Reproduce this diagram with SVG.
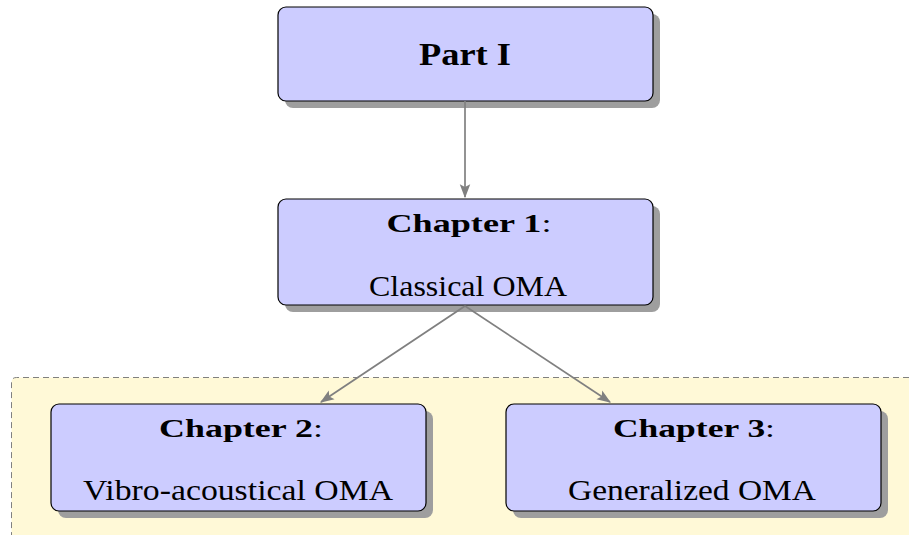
<svg xmlns="http://www.w3.org/2000/svg" width="909" height="535" viewBox="0 0 909 535">
<defs>
<marker id="ah" viewBox="0 0 12 10" refX="11" refY="5" markerWidth="14" markerHeight="12" markerUnits="userSpaceOnUse" orient="auto">
<path d="M0,0.5 L12,5 L0,9.5 L2.5,5 Z" fill="#808080"/>
</marker>
</defs>
<style>
.box{fill:#ccccff;stroke:#000;stroke-width:1.2}
.sh{fill:#9e9e9e}
.b{font-family:"Liberation Serif","DejaVu Serif",serif;font-weight:bold;fill:#000}
.r{font-family:"Liberation Serif","DejaVu Serif",serif;font-weight:normal;fill:#000}
.conn{stroke:#808080;stroke-width:1.7;fill:none;marker-end:url(#ah)}
</style>
<rect width="909" height="535" fill="#fff"/>
<g id="region">
<path d="M909,377.5 L16.5,377.5 Q11.5,377.5 11.5,382.5 L11.5,535 L909,535 Z" fill="#fff9d7"/>
<path d="M909,377.5 L16.5,377.5 Q11.5,377.5 11.5,382.5 L11.5,535" fill="none" stroke="#808080" stroke-width="1" stroke-dasharray="6,4"/>
</g>
<g id="part1">
<rect class="sh" x="285" y="14" width="375" height="94" rx="8"/>
<rect class="box" x="278" y="7" width="375" height="94" rx="8"/>
<text class="b" x="465" y="65" font-size="31" text-anchor="middle" textLength="92" lengthAdjust="spacingAndGlyphs">Part I</text>
</g>
<g id="ch1">
<rect class="sh" x="285" y="206" width="375" height="106" rx="8"/>
<rect class="box" x="278" y="199" width="375" height="106" rx="8"/>
<text class="b" x="469" y="232" font-size="25" text-anchor="middle" textLength="165" lengthAdjust="spacingAndGlyphs">Chapter 1<tspan font-weight="normal">:</tspan></text>
<text class="r" x="468" y="296" font-size="29" text-anchor="middle" textLength="198" lengthAdjust="spacingAndGlyphs">Classical OMA</text>
</g>
<g id="ch2">
<rect class="sh" x="58" y="411" width="375" height="107" rx="8"/>
<rect class="box" x="51" y="404" width="375" height="107" rx="8"/>
<text class="b" x="241" y="437" font-size="25" text-anchor="middle" textLength="164" lengthAdjust="spacingAndGlyphs">Chapter 2<tspan font-weight="normal">:</tspan></text>
<text class="r" x="238" y="500" font-size="29" text-anchor="middle" textLength="310" lengthAdjust="spacingAndGlyphs">Vibro-acoustical OMA</text>
</g>
<g id="ch3">
<rect class="sh" x="513" y="411" width="375" height="107" rx="8"/>
<rect class="box" x="506" y="404" width="375" height="107" rx="8"/>
<text class="b" x="694" y="437" font-size="25" text-anchor="middle" textLength="162" lengthAdjust="spacingAndGlyphs">Chapter 3<tspan font-weight="normal">:</tspan></text>
<text class="r" x="692" y="500" font-size="29" text-anchor="middle" textLength="248" lengthAdjust="spacingAndGlyphs">Generalized OMA</text>
</g>
<g id="connectors">
<line class="conn" x1="465" y1="101" x2="465" y2="197"/>
<line class="conn" x1="465" y1="306" x2="321" y2="402"/>
<line class="conn" x1="465" y1="306" x2="610" y2="402"/>
</g>
</svg>
